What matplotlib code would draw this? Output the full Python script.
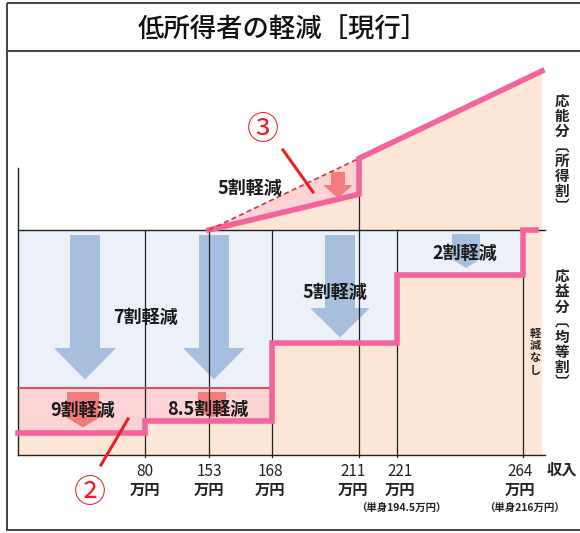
import matplotlib.pyplot as plt
from matplotlib.patches import Polygon, Rectangle
import numpy as np

plt.rcParams['font.family'] = ['Noto Sans CJK JP', 'DejaVu Sans']

title = '低所得者の軽減［現行］'
incomes = ['80', '153', '168', '211', '221', '264']
notes = {'221': '（単身194.5万円）', '264': '（単身216万円）'}
# 均等割の軽減割合 (区間: 〜80, 80〜168, 168〜221, 221〜264, 264〜)
flat_cut = [0.9, 0.85, 0.5, 0.2, 0.0]
flat_text = ['9割軽減', '8.5割軽減', '5割軽減', '2割軽減']
base_cut = 0.7      # 168万円までの7割軽減
income_cut = 0.5    # 所得割 153〜211万円は5割軽減

# レイアウト (ピクセル座標)
col_x = [145, 209, 272, 359, 397, 523]
x0, x1 = 18, 542
y_base, y_top = 455, 230
H = y_top - y_base          # 均等割の高さ (負: 上向き)
rise = 159                   # 所得割の右端での高さ

def lvl(cut):
    return y_base + (1 - cut) * H

def full(x):
    return y_top - rise * (x - col_x[1]) / (x1 - col_x[1])

def red(x):
    return y_top - (1 - income_cut) * rise * (x - col_x[1]) / (x1 - col_x[1])

def block_arrow(ax, cx, top, neck, tip, sw, hw, color, z=3):
    pts = [(cx - sw, top), (cx + sw, top), (cx + sw, neck), (cx + hw, neck),
           (cx, tip), (cx - hw, neck), (cx - sw, neck)]
    ax.add_patch(Polygon(pts, closed=True, fc=color, ec='none', zorder=z))

fig = plt.figure(figsize=(5.8, 5.33), dpi=100)
ax = fig.add_axes([0, 0, 1, 1])
ax.set_xlim(0, 580)
ax.set_ylim(533, 0)
ax.axis('off')

# 枠とタイトル
ax.add_patch(Rectangle((7, 3), 590, 527, fill=False, ec='#444444', lw=1.4))
ax.plot([7, 580], [51, 51], color='#444444', lw=1.4)
ax.text(283, 30, title, fontsize=19, fontweight='medium', ha='center', va='center',
        color='#111111')

# 区間の境界
edges = [x0, col_x[0], col_x[2], col_x[4], col_x[5], 536]
levels = [lvl(c) for c in flat_cut]

# 均等割: 軽減部分(青)と負担部分(橙)
ax.add_patch(Rectangle((x0, y_top), x1 - x0, -H, fc='#ecf1f9', ec='none', zorder=1))
step = []
for i, c in enumerate(flat_cut):
    step += [(edges[i], levels[i]), (edges[i + 1], levels[i])]
peach = [(x0, y_base)] + step + [(x1, y_top), (x1, y_base)]
ax.add_patch(Polygon(peach, closed=True, fc='#fde6d5', ec='none', zorder=1))

# 9割・8.5割の追加軽減部分
y7 = lvl(base_cut)
pink = [(x0, y7), (edges[2], y7), (edges[2], levels[1]), (edges[1], levels[1]),
        (edges[1], levels[0]), (x0, levels[0])]
ax.add_patch(Polygon(pink, closed=True, fc='#fdd3d6', ec='none', zorder=1))

# 所得割
xa, xb = col_x[1], col_x[3]
upper = [(xa, y_top), (xb, red(xb)), (xb, full(xb)), (x1, full(x1)), (x1, y_top)]
ax.add_patch(Polygon(upper, closed=True, fc='#fde6d5', ec='none', zorder=1))
ax.add_patch(Polygon([(xa, y_top), (xb, full(xb)), (xb, red(xb))], closed=True,
                     fc='#fdd3d6', ec='none', zorder=1))

# 青い矢印
blue = '#a7bfde'
block_arrow(ax, 85, 235, 348, y7 - 8, 15, 31, blue)
block_arrow(ax, 214, 235, 348, y7 - 8, 15, 31, blue)
block_arrow(ax, 340, 235, 308, levels[2] - 5, 15, 30, blue)
block_arrow(ax, 466, 234, 258, levels[3] - 7, 14, 16, blue)

# 赤い矢印
rc = '#f47b7b'
block_arrow(ax, 83, 392, 413, levels[0] - 5, 16, 24, rc)
block_arrow(ax, 212, 392, 410, levels[1] - 4, 14, 20, rc)
block_arrow(ax, 338, 172, 185, red(338) - 1, 7, 15, rc)

# 罫線
lc = '#222222'
ax.plot([x0, x0], [168, y_base], color=lc, lw=1.0, zorder=4)
ax.plot([x0, 545], [y_base, y_base], color=lc, lw=1.0, zorder=4)
ax.plot([x0, 545], [y_top, y_top], color=lc, lw=1.0, zorder=4)
for i, x in enumerate(col_x):
    yt = full(x) if i == 3 else y_top
    ax.plot([x, x], [yt, y_base + 2], color=lc, lw=0.9, zorder=4)
ax.plot([x0, edges[2]], [y7, y7], color='#e8303a', lw=1.2, zorder=4)

# 負担額の線
pc = '#f2649b'
sx = [p[0] for p in step]
sy = [p[1] for p in step]
ax.plot(sx, sy, color=pc, lw=4, solid_joinstyle='miter', zorder=5)
ax.plot([xa, xb, xb, x1], [y_top, red(xb), full(xb), full(x1)], color=pc, lw=4,
        solid_joinstyle='miter', zorder=5)
ax.plot([xa, xb], [y_top, full(xb)], color='#e0302f', lw=1.2, ls=(0, (3, 2)), zorder=5)

# 軽減のラベル
kw = dict(fontsize=13, fontweight='bold', ha='center', va='center', color='#1a1a1a', zorder=6)
ax.text(83, 410, flat_text[0], **kw)
ax.text(208, 409, flat_text[1], **kw)
ax.text(145, 317, '%d割軽減' % round(base_cut * 10), **kw)
ax.text(335, 292, flat_text[2], **kw)
ax.text(465, 253, flat_text[3], **kw)
ax.text(250, 188, '%d割軽減' % round(income_cut * 10), **kw)

# 横軸ラベル
lab_x = [145, 209, 270, 353, 400, 520]
for x, s in zip(lab_x, incomes):
    ax.text(x, 471, s, fontsize=11, ha='center', va='center', color='#222222')
    ax.text(x, 490, '万円', fontsize=11, fontweight='bold', ha='center', va='center',
            color='#222222')
    if s in notes:
        ax.text(x + 1 if s == '221' else x + 4, 508, notes[s], fontsize=7.5,
                fontweight='bold', ha='center', va='center', color='#222222')
ax.text(562, 470, '収入', fontsize=11, fontweight='bold', ha='center', va='center',
        color='#222222')

# 縦書きラベル (括弧は縦書き用の字形)
def vtext(x, y, s, step_y, size):
    for i, ch in enumerate(s):
        ax.text(x, y + i * step_y, ch, fontsize=size, fontweight='bold', ha='center',
                va='center', color='#222222')

vtext(562, 101, '応能分︹所得割︺', 15, 10.5)
vtext(562, 276, '応益分︹均等割︺', 15.2, 10.5)
vtext(535, 333, '軽減なし', 12.5, 8)

# ②③の注記
ax.text(263, 130, '③', fontsize=23, ha='center', va='center', color='#ee1c25')
ax.plot([283, 313], [150, 192], color='#ee1c25', lw=2.2, zorder=6)
ax.text(90, 493, '②', fontsize=23, ha='center', va='center', color='#ee1c25')
ax.plot([101, 128], [465, 419], color='#ee1c25', lw=2.2, zorder=6)

fig.savefig('out.png', dpi=100)
